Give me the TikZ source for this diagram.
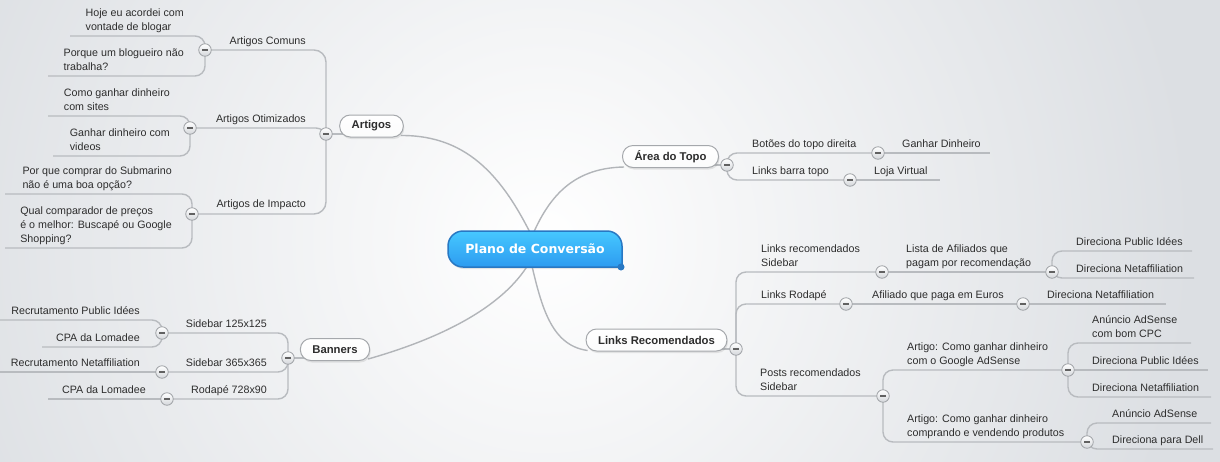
\documentclass[tikz,border=0pt]{standalone}
\usepackage{fontspec}
\setmainfont{Liberation Sans}
\newfontfamily\rootfont{DejaVu Sans}
\usetikzlibrary{shadows}
\definecolor{bgc}{RGB}{220,223,227}
\definecolor{lnc}{RGB}{184,187,191}
\definecolor{mlc}{RGB}{178,181,185}
\definecolor{txc}{RGB}{45,45,45}
\definecolor{cbd}{RGB}{160,163,167}
\definecolor{cbt}{RGB}{212,215,219}
\definecolor{rtop}{RGB}{70,200,255}
\definecolor{rbot}{RGB}{45,155,240}
\definecolor{rbd}{RGB}{40,120,195}
\definecolor{pbd}{RGB}{165,168,172}
\pgfdeclareradialshading{glow}{\pgfpoint{0bp}{0bp}}{color(0bp)=(white); color(18bp)=(bgc); color(50bp)=(bgc)}
\pgfdeclarelayer{back}
\pgfdeclarelayer{lines}
\pgfsetlayers{back,lines,main}
\begin{document}
\begin{tikzpicture}[x=1pt,y=-1pt,
  br/.style={draw=lnc, line width=1.4pt, rounded corners=10pt},
  mainln/.style={draw=mlc, line width=1.4pt},
  txt/.style={font=\fontsize{10.7}{14}\selectfont, text=txc, inner sep=0pt, align=left, execute at end node=\strut},
  tl/.style={txt, anchor=south east},
  tr/.style={txt, anchor=south west},
  col/.style={circle, draw=cbd, line width=0.8pt, top color=white, bottom color=cbt, minimum size=12.5pt, inner sep=0pt,
    path picture={\draw[line width=1.5pt, draw=black!62] ([xshift=-3pt]path picture bounding box.center) -- ([xshift=3pt]path picture bounding box.center);}},
  pill/.style={rounded corners=10.5pt, draw=pbd, line width=1pt, top color=white, bottom color=white!88!bgc, minimum height=22pt, inner xsep=12pt, inner ysep=0pt,
    font=\fontsize{11.3}{13}\selectfont\bfseries, text=txc, drop shadow={shadow xshift=1pt, shadow yshift=-2pt, opacity=0.18}},
]
\useasboundingbox (0,0) rectangle (1220,461);
\begin{pgfonlayer}{back}
\fill[bgc] (0,0) rectangle (1220,461);
\begin{scope}
\clip (0,0) rectangle (1220,461);
\shade[shading=glow] (545,240) circle (900);
\end{scope}
\end{pgfonlayer}

% central topic
\path[top color=rtop, bottom color=rbot, draw=rbd, line width=1.5pt, drop shadow={shadow xshift=1pt, shadow yshift=-2pt, opacity=0.2}]
  (622,267) -- (463,267) .. controls (454.7,267) and (448,260.3) .. (448,252) -- (448,246)
  .. controls (448,237.7) and (454.7,231) .. (463,231) -- (607,231)
  .. controls (615.3,231) and (622,237.7) .. (622,246) -- cycle;
\fill[rbd] (621,267) circle (3.5);
\node[font=\rootfont\bfseries\fontsize{12.5}{14}\selectfont, text=white, inner sep=0pt] (root) at (535,249) {Plano de Conversão};

% main topics
\node[pill] (art) at (371.5,126) {Artigos};
\node[pill] (top) at (670.5,156.5) {Área do Topo};
\node[pill] (ban) at (335,349.5) {Banners};
\node[pill] (lnk) at (656.5,340) {Links Recomendados};

% ---------- Artigos ----------
\node[col] (cArt) at (326,134) {};
\node[col] (cCom) at (205,50) {};
\node[col] (cOti) at (190,128) {};
\node[col] (cImp) at (192,214) {};
\node[tl] (tCom) at (306,49) {Artigos Comuns};
\node[tl] (tOti) at (306,127) {Artigos Otimizados};
\node[tl] (tImp) at (306,212) {Artigos de Impacto};
\node[tl] (tHoje) at (184,35) {Hoje eu acordei com\\vontade de blogar};
\node[tl] (tPorq) at (184,75) {Porque um blogueiro não\\trabalha?};
\node[tl] (tComo) at (170,115) {Como ganhar dinheiro\\com sites};
\node[tl] (tGan) at (170,155) {Ganhar dinheiro com\\videos};
\node[tl] (tPor) at (172,193) {Por que comprar do Submarino\\não é uma boa opção?};
\node[tl] (tQual) at (172,247) {Qual comparador de preços\\é o melhor: Buscapé ou Google\\Shopping?};
\coordinate (eHoje) at (70,36);
\coordinate (ePorq) at (48,76);
\coordinate (eComo) at (48,116);
\coordinate (eGan) at (53,156);
\coordinate (ePor) at (5,194);
\coordinate (eQual) at (5,248);

% ---------- Banners ----------
\node[col] (cBan) at (288,358) {};
\node[col] (cS1) at (162,333) {};
\node[col] (cS3) at (162,372) {};
\node[col] (cRod) at (167,399) {};
\node[tl] (tS1) at (267,332) {Sidebar 125x125};
\node[tl] (tS3) at (267,371) {Sidebar 365x365};
\node[tl] (tRod) at (267,398) {Rodapé 728x90};
\node[tl] (tRec1) at (140,319) {Recrutamento Public Idées};
\node[tl] (tCpa1) at (140,346) {CPA da Lomadee};
\node[tl] (tRec2) at (140,371) {Recrutamento Netaffiliation};
\node[tl] (tCpa2) at (146,398) {CPA da Lomadee};
\coordinate (eRec1) at (0,320);
\coordinate (eCpa1) at (42,347);
\coordinate (eRec2) at (0,372);
\coordinate (eCpa2) at (48,399);

% ---------- Area do Topo ----------
\node[col] (cTop) at (727,165) {};
\node[col] (cBot) at (878,153) {};
\node[col] (cLbt) at (850,180) {};
\node[tr] (tBot) at (752,152) {Botões do topo direita};
\node[tr] (tLbt) at (752,179) {Links barra topo};
\node[tr] (tGan2) at (902,152) {Ganhar Dinheiro};
\node[tr] (tLoja) at (874,179) {Loja Virtual};
\coordinate (eGan2) at (990,153);
\coordinate (eLoja) at (940,180);

% ---------- Links Recomendados ----------
\node[col] (cLnk) at (736,349) {};
\node[col] (cLRS) at (882,272) {};
\node[col] (cLista) at (1052,272) {};
\node[col] (cLRo) at (846,304) {};
\node[col] (cAfi) at (1023,304) {};
\node[col] (cPRS) at (883,396) {};
\node[col] (cArt1) at (1068,370) {};
\node[col] (cArt2) at (1087,442) {};
\node[tr] (tLRS) at (761,271) {Links recomendados\\Sidebar};
\node[tr] (tLista) at (906,271) {Lista de Afiliados que\\pagam por recomendação};
\node[tr] (tDPI1) at (1076,250) {Direciona Public Idées};
\node[tr] (tDN1) at (1076,277) {Direciona Netaffiliation};
\node[tr] (tLRo) at (761,303) {Links Rodapé};
\node[tr] (tAfi) at (872,303) {Afiliado que paga em Euros};
\node[tr] (tDN2) at (1047,303) {Direciona Netaffiliation};
\node[tr] (tPRS) at (760,395) {Posts recomendados\\Sidebar};
\node[tr] (tArt1) at (907,369) {Artigo: Como ganhar dinheiro\\com o Google AdSense};
\node[tr] (tArt2) at (907,441) {Artigo: Como ganhar dinheiro\\comprando e vendendo produtos};
\node[tr] (tAnu1) at (1092,342) {Anúncio AdSense\\com bom CPC};
\node[tr] (tDPI2) at (1092,369) {Direciona Public Idées};
\node[tr] (tDN3) at (1092,396) {Direciona Netaffiliation};
\node[tr] (tAnu2) at (1112,422) {Anúncio AdSense};
\node[tr] (tDell) at (1112,448) {Direciona para Dell};
\coordinate (eDPI1) at (1192,251);
\coordinate (eDN1) at (1194,278);
\coordinate (eDN2) at (1166,304);
\coordinate (eAnu1) at (1191,343);
\coordinate (eDPI2) at (1208,370);
\coordinate (eDN3) at (1211,397);
\coordinate (eAnu2) at (1211,423);
\coordinate (eDell) at (1213,449);

\begin{pgfonlayer}{lines}
% main connectors
\draw[mainln] ([xshift=3pt]root.center) .. controls (506,180) and (470,135) .. ([xshift=-3pt,yshift=2pt]art.south east);
\draw[mainln] ([xshift=-8pt]root.center) .. controls (545,200) and (570,168) .. ([xshift=2pt,yshift=1pt]top.south west);
\draw[mainln] ([xshift=1pt]root.center) .. controls (520,290) and (470,330) .. ([xshift=-2pt,yshift=2pt]ban.south east);
\draw[mainln] ([xshift=-7pt]root.center) .. controls (540,300) and (548,345) .. ([xshift=2pt,yshift=1pt]lnk.south west);
% Artigos
\draw[br] (cArt.center) -- (cArt.center -| art.center);
\draw[br, rounded corners=12pt] (cArt.center) |- (cCom.center);
\draw[br] (cArt.center) |- (cOti.center);
\draw[br, rounded corners=12pt] (cArt.center) |- (cImp.center);
\draw[br] (cCom.center) |- (eHoje);
\draw[br] (cCom.center) |- (ePorq);
\draw[br] (cOti.center) |- (eComo);
\draw[br] (cOti.center) |- (eGan);
\draw[br] (cImp.center) |- (ePor);
\draw[br] (cImp.center) |- (eQual);
% Banners
\draw[br] (cBan.center) -- (cBan.center -| ban.center);
\draw[br] (cBan.center) |- (cS1.center);
\draw[br] (cBan.center) |- (cS3.center);
\draw[br] (cBan.center) |- (cRod.center);
\draw[br] (cS1.center) |- (eRec1);
\draw[br] (cS1.center) |- (eCpa1);
\draw[br] (cS3.center) -- (eRec2);
\draw[br] (cRod.center) -- (eCpa2);
% Area do Topo
\draw[br] (cTop.center) -- (cTop.center -| top.center);
\draw[br] (cTop.center) |- (cBot.center);
\draw[br] (cTop.center) |- (cLbt.center);
\draw[br] (cBot.center) -- (eGan2);
\draw[br] (cLbt.center) -- (eLoja);
% Links Recomendados
\draw[br] (cLnk.center) -- (cLnk.center -| lnk.center);
\draw[br] (cLnk.center) |- (cLRS.center);
\draw[br] (cLnk.center) |- (cLRo.center);
\draw[br] (cLnk.center) |- (cPRS.center);
\draw[br] (cLRS.center) -- (cLista.center);
\draw[br] (cLista.center) |- (eDPI1);
\draw[br] (cLista.center) |- (eDN1);
\draw[br] (cLRo.center) -- (cAfi.center);
\draw[br] (cAfi.center) -- (eDN2);
\draw[br] (cPRS.center) |- (cArt1.center);
\draw[br] (cPRS.center) |- (cArt2.center);
\draw[br] (cArt1.center) |- (eAnu1);
\draw[br] (cArt1.center) -- (eDPI2);
\draw[br] (cArt1.center) |- (eDN3);
\draw[br] (cArt2.center) |- (eAnu2);
\draw[br] (cArt2.center) |- (eDell);
\end{pgfonlayer}
\end{tikzpicture}
\end{document}
